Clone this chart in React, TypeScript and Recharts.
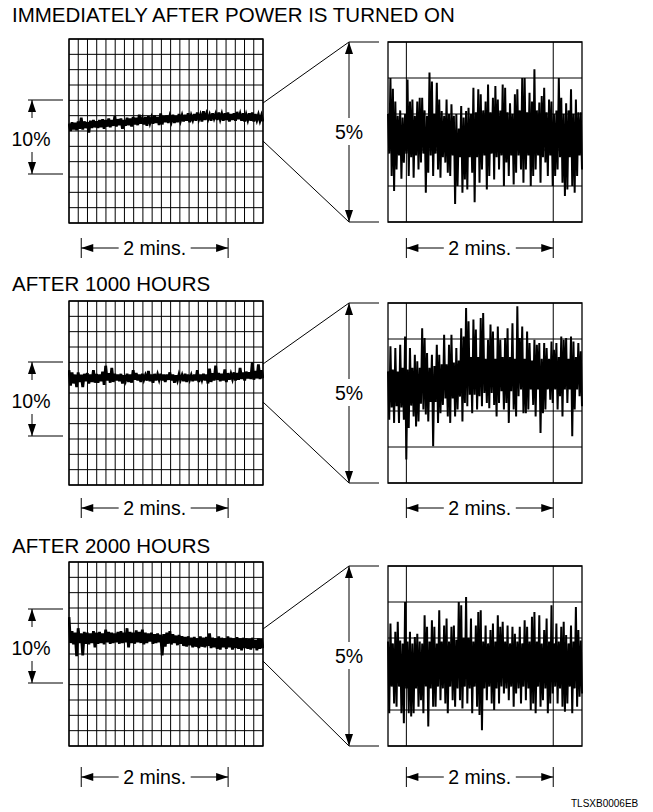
import React from 'react';
import { LineChart, Line, XAxis, YAxis, CartesianGrid, ReferenceLine, ReferenceArea } from 'recharts';

const FONT = '"Liberation Sans", Arial, Helvetica, sans-serif';

// Shared time axis, seconds
const SPAN_S = 158.5;
const FULL_MARKS_S = [10, 130];
const ZOOM_MARKS_S = [15, 135];

// Full-scale recorder chart: 12 rows x 21 columns, vertical range in %
const FULL_RANGE = 25;
const FULL_ROWS = 12;
const FULL_COLS = 21;
// Expanded recorder chart: 5 rows, vertical range in %
const ZOOM_RANGE = 5;
const ZOOM_ROWS = 5;

const titles = ['IMMEDIATELY AFTER POWER IS TURNED ON', 'AFTER 1000 HOURS', 'AFTER 2000 HOURS'];
const fullSpanLabel = '10%';
const zoomSpanLabel = '5%';
const timeLabel = '2 mins.';
const drawingCode = 'TLSXB0006EB';

// Full-scale trace envelopes (% of full scale): upper / lower per sample
const fullHigh0 = [13.5,13.7,13.6,13.8,14.3,13.8,13.7,13.9,14.0,13.8,14.0,14.1,14.0,14.2,14.0,14.5,14.1,14.2,14.0,14.3,14.2,14.4,14.3,14.7,14.2,14.4,14.5,14.3,14.6,14.4,14.9,14.5,14.6,14.5,14.7,14.5,14.8,14.6,14.7,14.9,14.6,14.8,15.0,14.7,15.2,14.8,14.7,14.9,14.8,15.0,14.8,14.9,15.0,14.8,14.9,15.1,14.8,14.9,14.7,14.9,15.0,14.8,14.7,14.6];
const fullLow0 = [12.5,12.7,12.6,12.8,12.7,12.9,12.3,12.9,13.0,12.9,13.0,12.8,13.1,13.0,13.2,13.1,13.3,12.8,13.2,13.3,13.1,13.4,13.3,13.5,13.4,13.2,13.6,13.5,13.6,13.3,13.4,13.7,13.6,13.8,13.6,13.7,13.9,13.8,13.9,13.7,14.0,13.9,14.1,13.8,14.0,14.1,13.9,14.2,14.0,14.1,13.9,14.0,13.8,14.0,13.9,14.1,13.9,13.8,14.0,13.9,13.8,14.0,13.9,13.8];

const fullHigh1 = [15.6,15.3,15.0,15.3,15.0,15.1,15.2,15.0,15.6,15.1,15.0,15.4,16.2,15.2,15.9,15.1,15.0,15.1,14.9,15.1,15.0,15.6,15.2,15.0,15.1,14.9,15.5,15.0,15.1,15.0,15.1,15.0,15.0,15.3,15.0,14.9,15.0,14.9,15.1,15.0,14.9,15.0,15.6,15.0,15.1,15.0,15.8,15.2,16.2,15.2,15.1,15.7,15.2,15.1,15.3,15.2,15.9,15.3,15.4,15.3,16.7,15.5,16.4,15.6];
const fullLow1 = [13.5,13.8,13.3,14.0,13.3,14.1,13.8,14.0,13.9,13.9,14.1,13.6,14.2,13.9,14.0,14.2,14.1,13.8,14.2,14.0,13.9,14.3,14.2,14.0,14.3,14.2,14.1,13.9,14.2,14.3,14.2,14.0,14.3,14.2,13.9,14.2,14.3,14.1,14.0,14.3,14.1,14.2,14.0,14.3,14.2,13.8,14.0,14.2,14.3,14.1,14.2,14.0,14.3,14.4,14.2,14.3,14.4,14.2,14.5,14.4,14.3,14.5,14.4,14.5];

const fullHigh2 = [17.5,15.6,15.4,16.0,15.3,15.5,15.4,15.3,15.6,15.4,15.5,15.3,15.8,15.5,15.4,15.3,15.5,15.6,15.4,16.0,15.5,15.4,15.7,15.5,15.8,15.4,15.3,15.4,15.2,15.3,15.1,15.2,15.4,15.6,15.2,15.0,15.1,14.9,14.8,14.9,14.7,14.8,14.6,14.9,14.7,14.8,15.3,14.7,14.6,14.9,14.7,14.6,14.9,14.7,14.6,14.8,14.6,14.7,14.6,14.5,14.7,14.4,14.6,14.5];
const fullLow2 = [14.0,13.8,12.2,14.0,12.3,13.9,13.8,14.0,13.4,13.9,14.0,13.8,14.1,13.9,14.0,14.1,13.9,14.0,14.1,13.4,14.0,13.9,14.1,14.0,13.8,14.0,14.2,13.9,14.0,14.1,12.3,13.5,13.9,13.8,14.0,13.7,13.9,13.6,13.5,13.7,13.4,13.5,13.3,13.5,13.4,13.6,13.3,13.4,13.2,13.1,13.4,13.2,13.4,13.1,13.3,13.2,13.0,13.3,13.2,13.1,13.3,13.0,13.2,13.3];

// Expanded trace envelopes (% within the 5% window): upper / lower per sample
const zoomHigh0 = [3.0,4.0,3.7,3.35,2.95,3.1,2.9,3.0,3.96,3.35,3.4,2.95,3.35,3.45,3.45,3.1,2.95,4.15,3.9,3.0,3.87,3.4,3.08,2.95,3.4,3.0,3.27,2.95,3.0,2.6,3.22,2.9,3.08,3.17,3.0,3.73,3.05,3.69,3.55,3.1,3.35,3.82,3.05,3.45,3.78,3.4,3.1,3.82,3.73,3.05,3.3,3.0,3.55,3.69,3.1,4.0,4.0,3.05,3.59,3.35,4.24,3.1,3.32,3.5,3.73,3.05,3.4,3.35,3.0,3.1,4.0,3.45,3.0,3.3,3.1,3.69,3.0,3.4,3.05,3.05];
const zoomLow0 = [1.9,1.28,0.86,1.46,1.85,1.2,1.65,1.9,1.28,1.8,1.23,1.85,1.46,1.65,1.9,0.81,1.37,1.85,1.28,1.9,1.46,1.23,1.8,1.65,1.37,1.28,1.85,0.5,1.0,1.8,0.81,1.18,0.9,1.8,1.37,0.55,1.8,1.09,1.46,1.85,0.9,1.28,1.9,1.18,1.8,1.46,1.85,1.0,1.65,1.28,1.85,1.04,1.37,1.85,1.46,1.09,1.46,1.85,1.0,1.28,1.46,1.85,1.09,1.8,1.65,1.28,1.85,1.0,1.28,1.46,1.8,1.09,0.72,0.9,1.8,1.0,0.81,1.28,1.85,1.46];

const zoomHigh1 = [3.1,3.8,3.15,3.75,3.1,3.84,3.2,4.07,3.15,3.75,3.2,3.56,3.38,3.2,4.3,4.03,3.61,3.2,3.56,3.25,3.84,3.56,3.3,4.12,3.3,3.84,4.12,3.35,3.75,3.4,4.3,4.07,4.86,4.49,3.5,4.54,4.26,3.5,4.58,4.72,3.45,3.98,4.4,4.21,3.45,4.35,3.98,3.5,4.03,4.3,3.5,4.44,3.45,4.91,4.03,4.35,3.45,4.21,3.89,3.4,3.98,3.84,3.89,3.45,3.89,3.75,3.45,3.93,3.7,3.89,3.5,4.07,3.98,4.03,3.45,4.07,3.93,3.5,3.89,3.66];
const zoomLow1 = [1.76,2.1,1.67,2.13,1.67,2.1,1.76,0.65,1.53,2.15,1.85,1.57,1.71,2.2,2.04,1.9,1.71,2.25,1.02,2.25,1.67,1.94,2.17,2.35,1.85,1.67,2.35,1.85,2.04,2.4,1.71,2.22,2.13,2.45,1.94,2.45,2.04,2.41,2.13,2.5,2.22,2.08,2.5,2.17,1.85,2.22,2.55,2.04,2.22,1.67,2.55,2.04,1.85,2.41,2.6,1.94,1.94,2.04,2.6,2.17,1.85,2.6,1.39,1.94,2.04,2.6,2.31,2.22,2.6,2.04,2.41,1.85,2.6,2.22,2.6,1.3,2.04,2.6,2.41,2.13];

const zoomHigh2 = [2.9,3.4,2.85,3.17,3.45,2.93,2.85,4.0,2.9,3.17,2.85,3.03,3.12,2.9,2.85,3.63,3.31,2.9,3.49,3.31,2.85,3.77,2.9,3.35,3.54,2.9,3.31,3.35,2.95,4.0,3.91,3.0,4.14,3.0,3.54,2.9,3.35,3.72,3.77,2.9,3.35,2.85,3.22,3.4,2.9,3.63,3.31,3.45,2.9,3.35,2.85,3.31,3.12,2.9,3.31,2.85,3.49,3.31,2.9,3.59,3.72,2.9,3.63,2.85,3.22,3.54,2.9,3.91,2.85,3.4,2.9,3.31,3.45,3.08,2.85,3.35,2.9,3.86,3.22,2.93];
const zoomLow2 = [0.91,1.65,1.18,1.09,1.65,0.91,0.63,1.6,0.91,0.82,0.91,1.6,1.09,1.27,0.91,1.65,0.54,1.6,1.09,1.09,1.65,1.27,1.6,1.18,0.91,1.65,1.27,1.09,1.6,1.27,1.04,1.65,1.18,1.6,0.91,1.65,1.09,0.86,0.44,1.6,1.27,1.65,1.18,1.0,1.6,1.18,1.65,1.46,1.6,1.27,1.65,1.09,1.46,1.6,1.18,1.65,1.27,1.6,1.0,1.18,0.91,1.65,1.09,1.27,1.6,0.91,1.18,1.46,1.65,1.18,1.6,1.09,0.95,1.18,1.65,0.91,1.6,1.09,1.37,1.46];

const fullTraces = [
  { high: fullHigh0, low: fullLow0 },
  { high: fullHigh1, low: fullLow1 },
  { high: fullHigh2, low: fullLow2 },
];
const zoomTraces = [
  { high: zoomHigh0, low: zoomLow0 },
  { high: zoomHigh1, low: zoomLow1 },
  { high: zoomHigh2, low: zoomLow2 },
];

// Page layout (px)
const PAGE_W = 653;
const PAGE_H = 812;
const FULL_X = 69;
const FULL_W = 194;
const FULL_H = 184;
const ZOOM_X = 388;
const ZOOM_W = 194;
const ZOOM_H = 180;
const LAYOUT = [
  { titleY: 22, top: 39, zoomTop: 42, tenTop: 100, tenBot: 174, linkTop: 103, linkBot: 141, minsY: 248 },
  { titleY: 291, top: 301, zoomTop: 303, tenTop: 362, tenBot: 436, linkTop: 364, linkBot: 402, minsY: 508 },
  { titleY: 553, top: 562, zoomTop: 566, tenTop: 609, tenBot: 683, linkTop: 629, linkBot: 661, minsY: 777 },
];
const LABEL_SIZE = 19.5;
const TITLE_SIZE = 20.5;

type Pt = { t: number; v: number };

// Each sample becomes an up/down pen stroke across the envelope
function toTrace(high: number[], low: number[]): Pt[] {
  const step = SPAN_S / (high.length - 0.5);
  const out: Pt[] = [];
  high.forEach((h, i) => {
    out.push({ t: i * step, v: h });
    out.push({ t: (i + 0.5) * step, v: low[i] });
  });
  return out;
}

// Evenly divided grid lines across the plot area
const splitPlot = (start: number, size: number, n: number) =>
  Array.from({ length: n + 1 }, (_, k) => start + (k * size) / n);

function FullChart({ left, top, high, low }: { left: number; top: number; high: number[]; low: number[] }) {
  const data = toTrace(high, low);
  return (
    <div style={{ position: 'absolute', left: left - 1, top: top - 1 }}>
      <LineChart width={FULL_W + 2} height={FULL_H + 2} data={data} margin={{ top: 1, right: 1, bottom: 1, left: 1 }}>
        <XAxis type="number" dataKey="t" domain={[0, SPAN_S]} hide />
        <YAxis type="number" domain={[0, FULL_RANGE]} hide />
        <CartesianGrid
          stroke="#000"
          strokeWidth={1}
          verticalCoordinatesGenerator={({ offset }: any) => splitPlot(offset.left, offset.width, FULL_COLS)}
          horizontalCoordinatesGenerator={({ offset }: any) => splitPlot(offset.top, offset.height, FULL_ROWS)}
        />
        <Line type="linear" dataKey="v" stroke="#000" strokeWidth={2.8} dot={false} isAnimationActive={false} />
        <ReferenceArea x1={0} x2={SPAN_S} y1={0} y2={FULL_RANGE} fill="none" fillOpacity={0} stroke="#000" strokeWidth={1.3} />
      </LineChart>
    </div>
  );
}

function ZoomChart({ left, top, high, low }: { left: number; top: number; high: number[]; low: number[] }) {
  const data = toTrace(high, low);
  return (
    <div style={{ position: 'absolute', left: left - 1, top: top - 1 }}>
      <LineChart width={ZOOM_W + 2} height={ZOOM_H + 2} data={data} margin={{ top: 1, right: 1, bottom: 1, left: 1 }}>
        <XAxis type="number" dataKey="t" domain={[0, SPAN_S]} hide />
        <YAxis type="number" domain={[0, ZOOM_RANGE]} hide />
        <CartesianGrid
          stroke="#000"
          strokeWidth={1}
          vertical={false}
          horizontalCoordinatesGenerator={({ offset }: any) => splitPlot(offset.top, offset.height, ZOOM_ROWS)}
        />
        {ZOOM_MARKS_S.map((m) => (
          <ReferenceLine key={m} x={m} stroke="#000" strokeWidth={1} />
        ))}
        <Line type="linear" dataKey="v" stroke="#000" strokeWidth={2} dot={false} isAnimationActive={false} />
        <ReferenceArea x1={0} x2={SPAN_S} y1={0} y2={ZOOM_RANGE} fill="none" fillOpacity={0} stroke="#000" strokeWidth={1.3} />
      </LineChart>
    </div>
  );
}

const tx = (x0: number, w: number, t: number) => x0 + (t / SPAN_S) * w;

function Head({ x, y, dir }: { x: number; y: number; dir: 'up' | 'down' | 'left' | 'right' }) {
  const L = 12;
  const H = 4;
  let pts = '';
  if (dir === 'up') pts = `${x},${y} ${x - H},${y + L} ${x + H},${y + L}`;
  if (dir === 'down') pts = `${x},${y} ${x - H},${y - L} ${x + H},${y - L}`;
  if (dir === 'left') pts = `${x},${y} ${x + L},${y - H} ${x + L},${y + H}`;
  if (dir === 'right') pts = `${x},${y} ${x - L},${y - H} ${x - L},${y + H}`;
  return <polygon points={pts} fill="#000" />;
}

function TimeSpan({ x1, x2, y }: { x1: number; x2: number; y: number }) {
  const mid = (x1 + x2) / 2;
  const gap = 36;
  return (
    <g>
      <line x1={x1} y1={y - 10} x2={x1} y2={y + 10} stroke="#000" strokeWidth={1} />
      <line x1={x2} y1={y - 10} x2={x2} y2={y + 10} stroke="#000" strokeWidth={1} />
      <line x1={x1} y1={y} x2={mid - gap} y2={y} stroke="#000" strokeWidth={1} />
      <line x1={mid + gap} y1={y} x2={x2} y2={y} stroke="#000" strokeWidth={1} />
      <Head x={x1} y={y} dir="left" />
      <Head x={x2} y={y} dir="right" />
      <text x={mid} y={y + 7} textAnchor="middle" fontSize={LABEL_SIZE} fontFamily={FONT} fill="#000">
        {timeLabel}
      </text>
    </g>
  );
}

function Annotations() {
  const stroke = { stroke: '#000', strokeWidth: 1 };
  return (
    <svg width={PAGE_W} height={PAGE_H} style={{ position: 'absolute', left: 0, top: 0, pointerEvents: 'none' }}>
      {LAYOUT.map((r, i) => {
        const tenMid = (r.tenTop + r.tenBot) / 2;
        const fiveX = ZOOM_X - 39;
        const zTop = r.zoomTop;
        const zBot = r.zoomTop + ZOOM_H;
        const zMid = (zTop + zBot) / 2;
        return (
          <g key={i}>
            <text x={12} y={r.titleY} fontSize={TITLE_SIZE} fontFamily={FONT} fill="#000">
              {titles[i]}
            </text>
            {/* 10% span beside the full-scale chart */}
            <line x1={28} y1={r.tenTop} x2={63} y2={r.tenTop} {...stroke} />
            <line x1={28} y1={r.tenBot} x2={63} y2={r.tenBot} {...stroke} />
            <line x1={32} y1={r.tenTop} x2={32} y2={tenMid - 19} {...stroke} />
            <line x1={32} y1={tenMid + 15} x2={32} y2={r.tenBot} {...stroke} />
            <Head x={32} y={r.tenTop} dir="up" />
            <Head x={32} y={r.tenBot} dir="down" />
            <text x={31} y={tenMid + 9} textAnchor="middle" fontSize={LABEL_SIZE} fontFamily={FONT} fill="#000">
              {fullSpanLabel}
            </text>
            {/* magnification lines */}
            <line x1={FULL_X + FULL_W} y1={r.linkTop} x2={fiveX} y2={zTop} {...stroke} />
            <line x1={FULL_X + FULL_W} y1={r.linkBot} x2={fiveX} y2={zBot} {...stroke} />
            {/* 5% span beside the expanded chart */}
            <line x1={fiveX} y1={zTop} x2={ZOOM_X - 9} y2={zTop} {...stroke} />
            <line x1={fiveX} y1={zBot} x2={ZOOM_X - 9} y2={zBot} {...stroke} />
            <line x1={fiveX} y1={zTop} x2={fiveX} y2={zMid - 14} {...stroke} />
            <line x1={fiveX} y1={zMid + 13} x2={fiveX} y2={zBot} {...stroke} />
            <Head x={fiveX} y={zTop} dir="up" />
            <Head x={fiveX} y={zBot} dir="down" />
            <text x={fiveX} y={zMid + 7} textAnchor="middle" fontSize={LABEL_SIZE} fontFamily={FONT} fill="#000">
              {zoomSpanLabel}
            </text>
            <TimeSpan x1={tx(FULL_X, FULL_W, FULL_MARKS_S[0])} x2={tx(FULL_X, FULL_W, FULL_MARKS_S[1])} y={r.minsY} />
            <TimeSpan x1={tx(ZOOM_X, ZOOM_W, ZOOM_MARKS_S[0])} x2={tx(ZOOM_X, ZOOM_W, ZOOM_MARKS_S[1])} y={r.minsY} />
          </g>
        );
      })}
      <text x={571} y={807} fontSize={10} fontFamily={FONT} fill="#000">
        {drawingCode}
      </text>
    </svg>
  );
}

export default function App() {
  return (
    <div style={{ position: 'absolute', left: 0, top: 0, width: PAGE_W, height: PAGE_H, background: '#fff' }}>
      {LAYOUT.map((r, i) => (
        <React.Fragment key={i}>
          <FullChart left={FULL_X} top={r.top} high={fullTraces[i].high} low={fullTraces[i].low} />
          <ZoomChart left={ZOOM_X} top={r.zoomTop} high={zoomTraces[i].high} low={zoomTraces[i].low} />
        </React.Fragment>
      ))}
      <Annotations />
    </div>
  );
}
